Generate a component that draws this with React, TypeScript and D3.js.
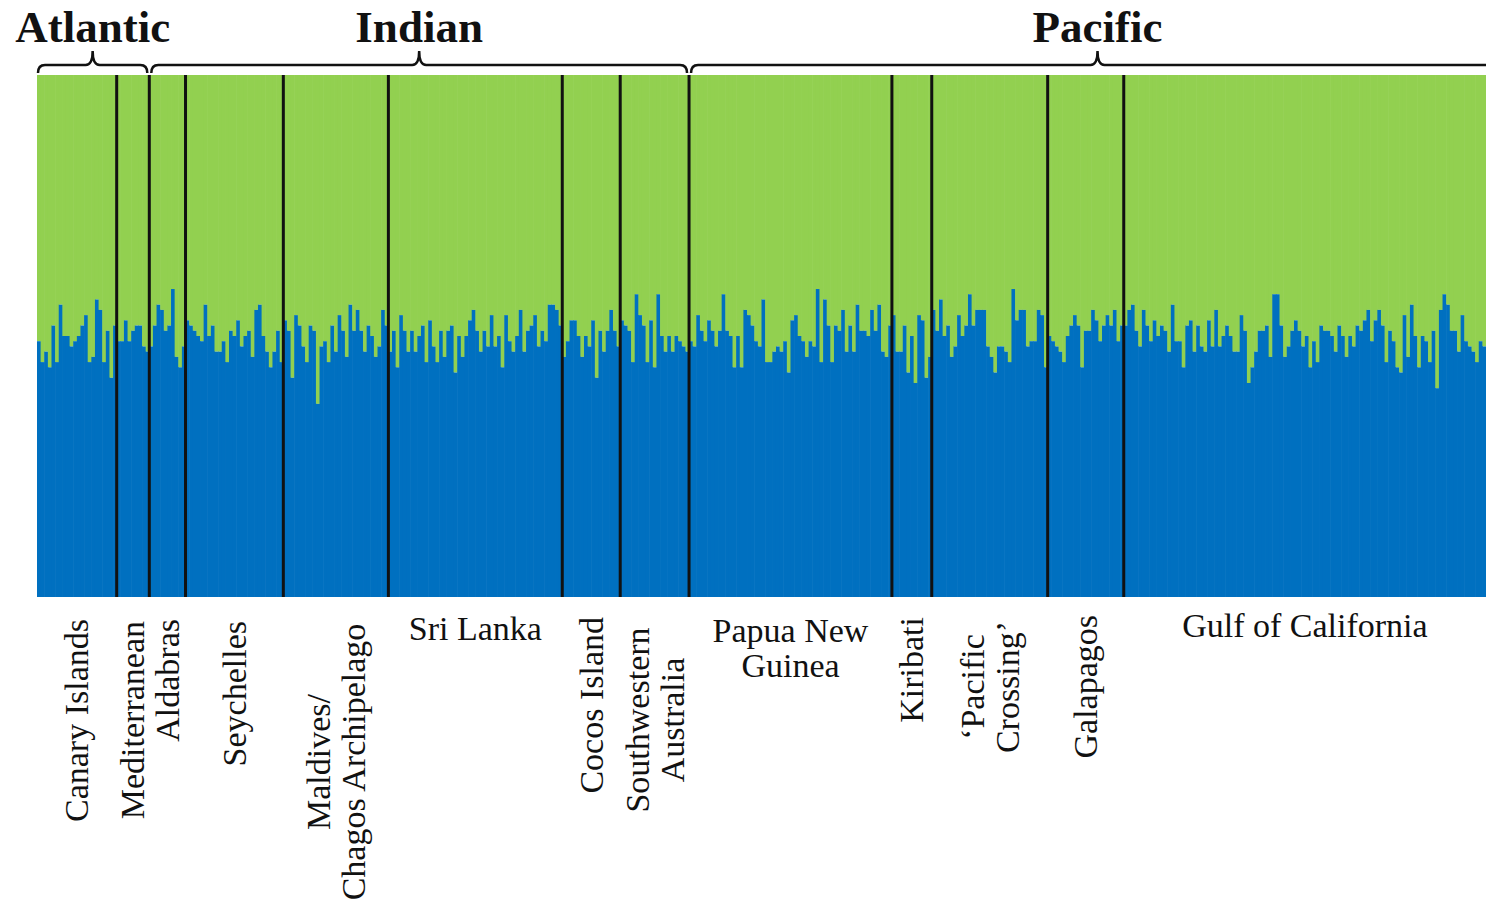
import React from 'react';
import * as d3 from 'd3';

// blue (cluster 1) membership per individual; green = 1 - value
const canary = [0.49, 0.45, 0.47, 0.44, 0.52, 0.45, 0.56, 0.50, 0.50, 0.48, 0.49, 0.50, 0.52, 0.54, 0.45, 0.46, 0.57, 0.55, 0.45, 0.51, 0.42, 0.52];
const mediterranean = [0.49, 0.49, 0.53, 0.49, 0.51, 0.52, 0.52, 0.48, 0.47];
const aldabras = [0.48, 0.52, 0.56, 0.55, 0.51, 0.52, 0.59, 0.46, 0.44, 0.48];
const seychelles = [0.53, 0.52, 0.51, 0.50, 0.49, 0.56, 0.50, 0.52, 0.47, 0.47, 0.49, 0.45, 0.51, 0.50, 0.53, 0.48, 0.50, 0.51, 0.46, 0.55, 0.56, 0.50, 0.47, 0.44, 0.47, 0.51, 0.45];
const maldives = [0.53, 0.51, 0.42, 0.54, 0.52, 0.48, 0.45, 0.52, 0.51, 0.37, 0.48, 0.49, 0.45, 0.52, 0.47, 0.54, 0.51, 0.46, 0.56, 0.51, 0.55, 0.51, 0.47, 0.52, 0.50, 0.46, 0.48, 0.55, 0.52];
const sriLanka = [0.47, 0.51, 0.44, 0.54, 0.51, 0.47, 0.51, 0.47, 0.50, 0.52, 0.45, 0.53, 0.48, 0.45, 0.51, 0.46, 0.51, 0.52, 0.43, 0.50, 0.46, 0.50, 0.53, 0.55, 0.51, 0.47, 0.51, 0.48, 0.54, 0.48, 0.50, 0.44, 0.54, 0.49, 0.47, 0.50, 0.55, 0.47, 0.51, 0.52, 0.54, 0.48, 0.51, 0.49, 0.56, 0.56, 0.55, 0.52];
const cocos = [0.46, 0.49, 0.53, 0.53, 0.50, 0.46, 0.50, 0.48, 0.53, 0.42, 0.51, 0.47, 0.51, 0.55, 0.51, 0.48];
const swAustralia = [0.53, 0.52, 0.51, 0.45, 0.58, 0.54, 0.52, 0.45, 0.53, 0.44, 0.58, 0.50, 0.47, 0.50, 0.47, 0.50, 0.49, 0.48, 0.47];
const papua = [0.49, 0.48, 0.54, 0.51, 0.49, 0.53, 0.51, 0.48, 0.51, 0.58, 0.51, 0.50, 0.44, 0.50, 0.44, 0.55, 0.54, 0.52, 0.49, 0.48, 0.57, 0.45, 0.45, 0.47, 0.48, 0.47, 0.49, 0.43, 0.53, 0.54,
  0.50, 0.49, 0.46, 0.49, 0.48, 0.59, 0.45, 0.57, 0.52, 0.45, 0.52, 0.51, 0.55, 0.47, 0.52, 0.47, 0.56, 0.51, 0.51, 0.50, 0.55, 0.51, 0.56, 0.47, 0.46, 0.52];
const kiribati = [0.54, 0.47, 0.47, 0.52, 0.43, 0.50, 0.41, 0.54, 0.53, 0.42, 0.46];
const pacificCrossing = [0.55, 0.51, 0.57, 0.50, 0.52, 0.46, 0.48, 0.54, 0.50, 0.52, 0.58, 0.52, 0.55,
  0.55, 0.55, 0.48, 0.46, 0.43, 0.48, 0.48, 0.47, 0.45, 0.59, 0.53, 0.55, 0.55, 0.48, 0.49, 0.49, 0.55, 0.54, 0.44];
const galapagos = [0.50, 0.49, 0.48, 0.47, 0.45, 0.50, 0.52, 0.54, 0.52, 0.44, 0.51, 0.51, 0.55, 0.53, 0.49, 0.52, 0.54, 0.52, 0.55, 0.49, 0.52];
const gulf = [0.52, 0.55, 0.56, 0.51, 0.48, 0.55, 0.52, 0.49, 0.53, 0.50, 0.52, 0.51, 0.47,
  0.56, 0.49, 0.49, 0.44, 0.52, 0.53, 0.47, 0.52, 0.48, 0.47, 0.53, 0.48, 0.55, 0.48, 0.50, 0.52, 0.50, 0.47, 0.47, 0.54,
  0.51, 0.41, 0.44, 0.47, 0.51, 0.51, 0.52, 0.46, 0.58, 0.58, 0.52, 0.46, 0.48, 0.51, 0.53, 0.51, 0.48, 0.50, 0.44, 0.49,
  0.45, 0.52, 0.51, 0.51, 0.50, 0.47, 0.52,
  0.50, 0.46, 0.50, 0.48, 0.52, 0.51, 0.53, 0.55, 0.49, 0.53, 0.55, 0.52, 0.45, 0.51, 0.49, 0.44, 0.43, 0.54, 0.46, 0.56,
  0.50, 0.44, 0.50, 0.49, 0.45, 0.51, 0.40, 0.55, 0.58, 0.56, 0.51, 0.51, 0.47, 0.54, 0.49, 0.48, 0.47, 0.45, 0.49, 0.48];

const popNames = ['Canary Islands', 'Mediterranean', 'Aldabras', 'Seychelles', 'Maldives/\nChagos Archipelago', 'Sri Lanka',
  'Cocos Island', 'Southwestern\nAustralia', 'Papua New\nGuinea', 'Kiribati', '\u2018Pacific\nCrossing\u2019', 'Galapagos', 'Gulf of California'];
const popValues = [canary, mediterranean, aldabras, seychelles, maldives, sriLanka, cocos, swAustralia, papua, kiribati, pacificCrossing, galapagos, gulf];

const oceans = ['Atlantic', 'Indian', 'Pacific'];
const oceanFirstPop = [0, 2, 8];
const oceanLastPop = [1, 7, 12];

const W = 1486;
const H = 907;
const left = 37;
const right = 1486;
const top = 75;
const bottom = 597;
const GREEN = '#92D050';
const BLUE = '#0070C0';
const FONT = '"Liberation Serif", "Times New Roman", serif';

// how each label sits under its population
const labelStyle: Record<number, { mode: string; y: number }> = {
  0: { mode: 'v', y: 619 }, 1: { mode: 'v', y: 621 }, 2: { mode: 'v', y: 619 }, 3: { mode: 'v', y: 621 },
  4: { mode: 'v2', y: 762 }, 5: { mode: 'h', y: 640 }, 6: { mode: 'v', y: 617 }, 7: { mode: 'v2', y: 720 },
  8: { mode: 'h', y: 642 }, 9: { mode: 'v', y: 617 }, 10: { mode: 'v2', y: 687 }, 11: { mode: 'v', y: 615 },
  12: { mode: 'h', y: 637 },
};

function bracePath(x1: number, x2: number, xm: number) {
  const yb = 73, ym = 65, yt = 51, r = 7;
  return `M${x1},${yb} Q${x1},${ym} ${x1 + r},${ym} L${xm - r},${ym} Q${xm},${ym} ${xm},${yt} ` +
    `Q${xm},${ym} ${xm + r},${ym} L${x2 - r},${ym} Q${x2},${ym} ${x2},${yb}`;
}

export default function App() {
  const inds = popValues.flatMap((vals, p) => vals.map((q) => ({ p, q })));
  const starts: number[] = [];
  let acc = 0;
  popValues.forEach((v) => { starts.push(acc); acc += v.length; });

  const x = d3.scaleBand<number>().domain(d3.range(inds.length)).range([left, right]).padding(0);
  const y = d3.scaleLinear().domain([0, 1]).range([bottom, top]);
  const bw = x.bandwidth();

  const popStart = (p: number) => x(starts[p])!;
  const popEnd = (p: number) => x(starts[p] + popValues[p].length - 1)! + bw;

  return (
    <div style={{ position: 'absolute', left: 0, top: 0 }}>
      <svg width={W} height={H} style={{ display: 'block', background: '#fff' }}>
        <g>
          {inds.map((d, i) => (
            <g key={i}>
              <rect x={x(i)} y={y(1)} width={bw + 0.6} height={y(d.q) - y(1)} fill={GREEN} />
              <rect x={x(i)} y={y(d.q)} width={bw + 0.6} height={y(0) - y(d.q)} fill={BLUE} />
            </g>
          ))}
        </g>
        {starts.slice(1).map((s, k) => (
          <line key={k} x1={x(s)} x2={x(s)} y1={top} y2={bottom} stroke="#111" strokeWidth={3} />
        ))}
        {oceans.map((name, o) => {
          const x1 = popStart(oceanFirstPop[o]) + (o === 0 ? 1 : 2);
          const x2 = o === oceans.length - 1 ? right + 18 : popEnd(oceanLastPop[o]) - 2;
          const xm = (x1 + x2) / 2;
          return (
            <g key={name}>
              <path d={bracePath(x1, x2, xm)} fill="none" stroke="#111" strokeWidth={2.5} />
              <text x={xm} y={42} textAnchor="middle" fontFamily={FONT} fontWeight="bold" fontSize={45} fill="#111">{name}</text>
            </g>
          );
        })}
        {popNames.map((name, p) => {
          const cx = (popStart(p) + popEnd(p)) / 2;
          const lines = name.split('\n');
          const st = labelStyle[p];
          if (st.mode === 'h') {
            return (
              <text key={p} x={cx} y={st.y} textAnchor="middle" fontFamily={FONT} fontSize={34} fill="#111">
                {lines.map((l, j) => <tspan key={j} x={cx} y={st.y + j * 35}>{l}</tspan>)}
              </text>
            );
          }
          if (st.mode === 'v2') {
            return (
              <g key={p} transform={`translate(${cx},${st.y}) rotate(-90)`}>
                {lines.map((l, j) => (
                  <text key={j} x={0} y={(j - (lines.length - 1) / 2) * 35} textAnchor="middle" dominantBaseline="central"
                    fontFamily={FONT} fontSize={34} fill="#111">{l}</text>
                ))}
              </g>
            );
          }
          return (
            <g key={p} transform={`translate(${cx},${st.y}) rotate(-90)`}>
              <text x={0} y={0} textAnchor="end" dominantBaseline="central" fontFamily={FONT} fontSize={34} fill="#111">{name}</text>
            </g>
          );
        })}
      </svg>
    </div>
  );
}
